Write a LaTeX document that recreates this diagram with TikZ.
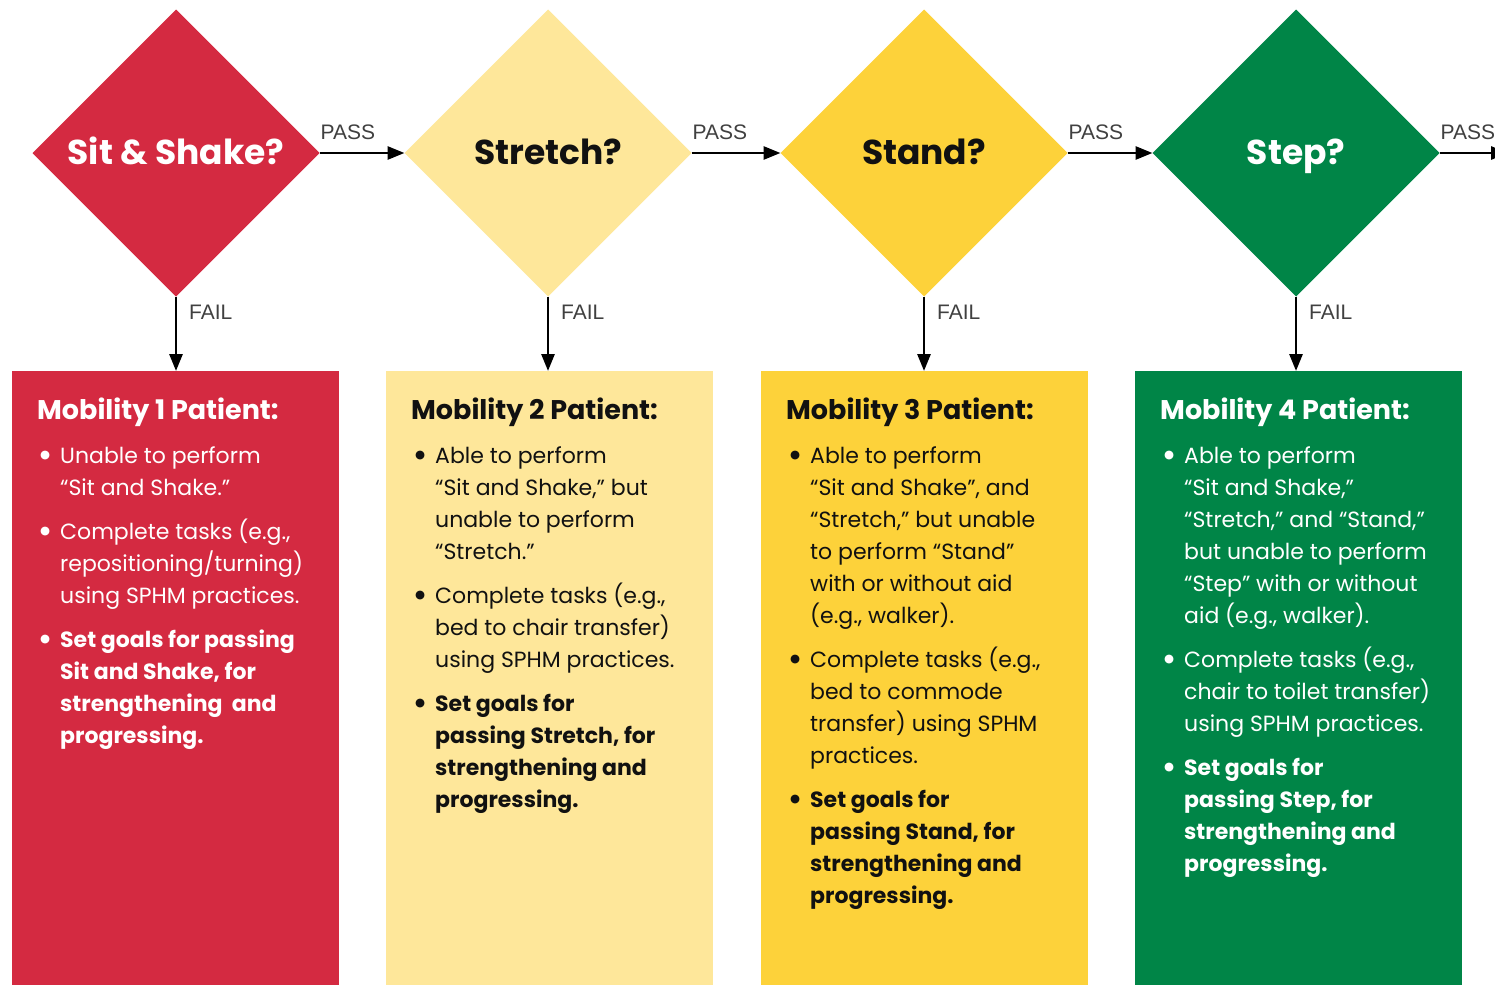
\documentclass[tikz,border=0pt]{standalone}
\usepackage{fontspec}
\setmainfont{Poppins}
\newfontfamily\lblfont{Liberation Sans}
\newfontfamily\dejavu{DejaVu Sans}
\usetikzlibrary{shapes.geometric,arrows.meta,calc}
\definecolor{cred}{HTML}{D42A41}
\definecolor{clyel}{HTML}{FEE79A}
\definecolor{cyel}{HTML}{FDD23A}
\definecolor{cgreen}{HTML}{008547}
\definecolor{cdark}{HTML}{111111}
\definecolor{lblgray}{HTML}{404040}
\newcommand{\bul}{\leavevmode\llap{\raisebox{4.2pt}{\fontsize{11.5}{11.5}\dejavu ●}\hspace{10pt}}}
\tikzset{
  dia/.style={diamond, minimum width=287pt, minimum height=287pt, inner sep=0pt, outer sep=0pt, text height=22pt, text depth=0pt, font=\fontsize{34.5}{40}\selectfont\bfseries},
  panel/.style={minimum width=327pt, minimum height=614pt, inner sep=0pt, outer sep=0pt, anchor=north west},
  ttl/.style={anchor=base west, inner sep=0pt, font=\fontsize{27}{32}\selectfont\bfseries},
  body/.style={anchor=base west, inner sep=0pt, font=\fontsize{22}{32}\selectfont},
  arr/.style={line width=2.8pt, -{Triangle[length=17pt,width=13pt]}, black},
  lbl/.style={inner sep=0pt, anchor=base west, font=\fontsize{21}{21}\selectfont\lblfont, text=lblgray}
}
\begin{document}
\begin{tikzpicture}[x=1pt,y=-1pt]
\useasboundingbox[fill=white] (0,0) rectangle (1495,985);
% diamonds
\node[dia, fill=cred, text=white] (d1) at (176,153) {Sit \& Shake?};
\node[dia, fill=clyel, text=cdark] (d2) at (548,153) {Stretch?};
\node[dia, fill=cyel, text=cdark] (d3) at (924,153) {Stand?};
\node[dia, fill=cgreen, text=white] (d4) at (1296,153) {Step?};
\coordinate (dend) at (1508,153);
% panels
\node[panel, fill=cred] (b1) at (12,371) {};
\node[panel, fill=clyel] (b2) at (386,371) {};
\node[panel, fill=cyel] (b3) at (761,371) {};
\node[panel, fill=cgreen] (b4) at (1135,371) {};
% PASS arrows
\draw[arr] (d1.east) -- (d2.west);
\draw[arr] (d2.east) -- (d3.west);
\draw[arr] (d3.east) -- (d4.west);
\draw[arr] (d4.east) -- (dend);
\node[lbl] (p1) at ($(d1.east)+(1,-13.5)$) {PASS};
\node[lbl] (p2) at ($(d2.east)+(1,-13.5)$) {PASS};
\node[lbl] (p3) at ($(d3.east)+(1,-13.5)$) {PASS};
\node[lbl] (p4) at ($(d4.east)+(1,-13.5)$) {PASS};
% FAIL arrows
\foreach \i in {1,2,3,4}{
  \draw[arr] (d\i.south) -- (d\i.south |- b\i.north);
  \node[lbl] (f\i) at ($(d\i.south)+(13,23)$) {FAIL};
}
% texts panel 1
\node[ttl, text=white] (t1) at (37,419) {Mobility 1 Patient:};
\node[body, text=white] (x1) at (60,463) {\parbox[t]{320pt}{%
\bul Unable to perform\\
“Sit and Shake.”\\[12pt]
\bul Complete tasks (e.g.,\\
repositioning/turning)\\
using SPHM practices.\\[12pt]
\bfseries\bul Set goals for passing\\
Sit and Shake, for\\
strengthening~ and\\
progressing.}};
% panel 2
\node[ttl, text=cdark] (t2) at (411,419) {Mobility 2 Patient:};
\node[body, text=cdark] (x2) at (435,463) {\parbox[t]{320pt}{%
\bul Able to perform\\
“Sit and Shake,” but\\
unable to perform\\
“Stretch.”\\[12pt]
\bul Complete tasks (e.g.,\\
bed to chair transfer)\\
using SPHM practices.\\[12pt]
\bfseries\bul Set goals for\\
passing Stretch, for\\
strengthening and\\
progressing.}};
% panel 3
\node[ttl, text=cdark] (t3) at (786,419) {Mobility 3 Patient:};
\node[body, text=cdark] (x3) at (810,463) {\parbox[t]{320pt}{%
\bul Able to perform\\
“Sit and Shake”, and\\
“Stretch,” but unable\\
to perform “Stand”\\
with or without aid\\
(e.g., walker).\\[12pt]
\bul Complete tasks (e.g.,\\
bed to commode\\
transfer) using SPHM\\
practices.\\[12pt]
\bfseries\bul Set goals for\\
passing Stand, for\\
strengthening and\\
progressing.}};
% panel 4
\node[ttl, text=white] (t4) at (1160,419) {Mobility 4 Patient:};
\node[body, text=white] (x4) at (1184,463) {\parbox[t]{320pt}{%
\bul Able to perform\\
“Sit and Shake,”\\
“Stretch,” and “Stand,”\\
but unable to perform\\
“Step” with or without\\
aid (e.g., walker).\\[12pt]
\bul Complete tasks (e.g.,\\
chair to toilet transfer)\\
using SPHM practices.\\[12pt]
\bfseries\bul Set goals for\\
passing Step, for\\
strengthening and\\
progressing.}};
\end{tikzpicture}
\end{document}
